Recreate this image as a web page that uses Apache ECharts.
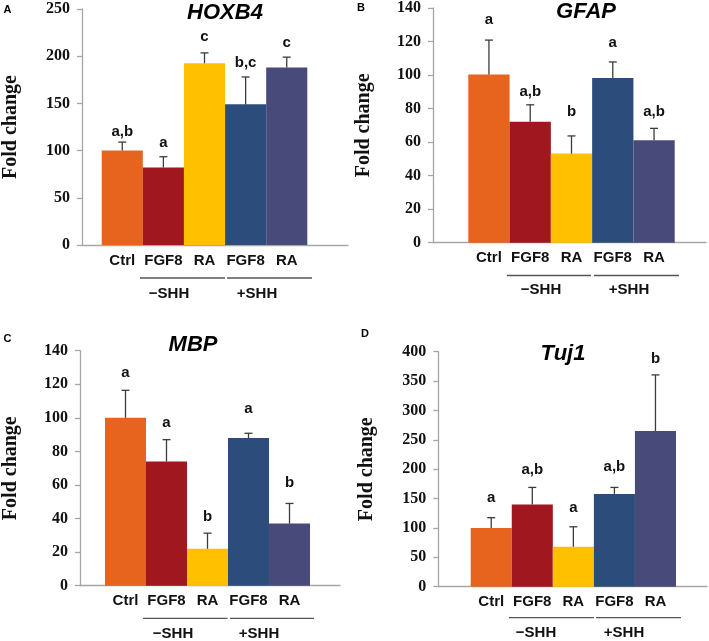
<!DOCTYPE html>
<html><head><meta charset="utf-8">
<script src="https://cdn.jsdelivr.net/npm/echarts@6/dist/echarts.min.js"></script>
<style>html,body{margin:0;padding:0;background:#fff}#c{width:709px;height:641px}</style>
</head><body><div id="c"></div>
<script>
// ---- data ----
const categories = ['Ctrl', 'FGF8', 'RA', 'FGF8', 'RA'];
const groupLabels = ['\u2212SHH', '+SHH'];
const titles = ['HOXB4', 'GFAP', 'MBP', 'Tuj1'];
const panelLetters = ['A', 'B', 'C', 'D'];
const yAxisName = 'Fold change';

const hoxb4Mean = [100, 82, 192.5, 149, 188];
const hoxb4Err = [9, 11.5, 11, 29, 11];
const hoxb4Sig = ['a,b', 'a', 'c', 'b,c', 'c'];
const hoxb4SigAt = [120, 108.7, 220, 192.5, 213.7];

const gfapMean = [100, 72, 53, 98, 61];
const gfapErr = [20.5, 10, 10.5, 9.5, 7];
const gfapSig = ['a', 'a,b', 'b', 'a', 'a,b'];
const gfapSigAt = [132.6, 90, 78, 118.7, 77.6];

const mbpMean = [100, 74, 22, 88, 37];
const mbpErr = [16.4, 13, 9.3, 2.8, 12];
const mbpSig = ['a', 'a', 'b', 'a', 'b'];
const mbpSigAt = [127, 97.3, 41, 105.2, 61];

const tuj1Mean = [100, 140, 68, 158, 265];
const tuj1Err = [17.5, 29, 34, 11, 95.5];
const tuj1Sig = ['a', 'a,b', 'a', 'a,b', 'b'];
const tuj1SigAt = [150.5, 198.6, 133.4, 204.3, 387.6];

const yMax = [250, 140, 140, 400];
const yStep = [50, 20, 20, 50];

// ---- styles / layout ----
const barColors = ['#E7641F', '#A1171F', '#FFC000', '#2C4C7B', '#484B7A'];
const panelData = [
  [hoxb4Mean, hoxb4Err, hoxb4Sig, hoxb4SigAt],
  [gfapMean, gfapErr, gfapSig, gfapSigAt],
  [mbpMean, mbpErr, mbpSig, mbpSigAt],
  [tuj1Mean, tuj1Err, tuj1Sig, tuj1SigAt]
];
const layout = [
  {ax: 70, top: 9, bottom: 245, right: 348, bl: 101.7, br: 307.3, nameGap: 61,
   gl: [[140, 225], [227, 312]], gly: 278, gt: [169, 257], gty: 293.5,
   title: [225, 13], letter: [7.5, 10]},
  {ax: 433, top: 7.3, bottom: 242.7, right: 706, bl: 468.3, br: 674.7, nameGap: 59,
   gl: [[507, 591], [594, 679]], gly: 275.5, gt: [541, 629], gty: 290,
   title: [586, 12], letter: [361, 8]},
  {ax: 70, top: 350.7, bottom: 585.7, right: 340, bl: 105, br: 310, nameGap: 59,
   gl: [[143, 227.5], [230, 314]], gly: 618.3, gt: [173, 259], gty: 634,
   title: [193, 345], letter: [7.5, 339]},
  {ax: 438.3, top: 351.7, bottom: 586.7, right: 707, bl: 470.7, br: 676, nameGap: 61,
   gl: [[509, 594], [596, 681]], gly: 617.7, gt: [536, 624], gty: 633,
   title: [563, 354], letter: [365, 334]}
];
const axisGrey = '#a6a6a6';
const errColor = '#3c3c3c';

const grids = [], xAxes = [], yAxes = [], series = [], graphics = [];

layout.forEach((L, k) => {
  const [mean, err, sig, sigAt] = panelData[k];
  const h = L.bottom - L.top;
  grids.push({left: L.ax, top: L.top, width: L.right - L.ax, height: h});
  grids.push({left: L.bl, top: L.top, width: L.br - L.bl, height: h});
  xAxes.push({gridIndex: 2 * k, type: 'value', min: 0, max: 1,
    axisLine: {show: true, onZero: false, lineStyle: {color: axisGrey, width: 1.3}},
    axisTick: {show: false}, axisLabel: {show: false}, splitLine: {show: false}});
  xAxes.push({gridIndex: 2 * k + 1, type: 'category', data: categories,
    axisLine: {show: false}, axisTick: {show: false},
    axisLabel: {interval: 0, hideOverlap: false, fontFamily: 'Liberation Sans', fontWeight: 'bold', fontSize: 15, color: '#111', margin: 8}});
  yAxes.push({gridIndex: 2 * k, type: 'value', min: 0, max: yMax[k], interval: yStep[k],
    axisLine: {show: true, lineStyle: {color: axisGrey, width: 1.3}},
    axisTick: {show: true, length: 5, lineStyle: {color: axisGrey, width: 1.3}},
    axisLabel: {fontFamily: 'Liberation Serif', fontWeight: 'bold', fontSize: 16, color: '#111', margin: 12},
    splitLine: {show: false},
    name: yAxisName, nameLocation: 'middle', nameRotate: 90, nameGap: L.nameGap,
    nameTextStyle: {fontFamily: 'Liberation Serif', fontWeight: 'bold', fontSize: 20, color: '#111'}});
  yAxes.push({gridIndex: 2 * k + 1, type: 'value', min: 0, max: yMax[k], interval: yStep[k], show: false});

  series.push({type: 'bar', xAxisIndex: 2 * k + 1, yAxisIndex: 2 * k + 1, barCategoryGap: '0%',
    silent: true,
    data: mean.map((v, i) => ({value: v, itemStyle: {color: barColors[i]}}))});
  series.push({type: 'custom', xAxisIndex: 2 * k + 1, yAxisIndex: 2 * k + 1, silent: true, z: 5,
    data: mean.map((v, i) => [i, v, err[i], sigAt[i]]),
    renderItem: function (params, api) {
      const i = api.value(0), v = api.value(1), e = api.value(2), s = api.value(3);
      const p0 = api.coord([i, v]);
      const p1 = api.coord([i, v + e]);
      const pl = api.coord([i, s]);
      return {type: 'group', children: [
        {type: 'line', shape: {x1: p0[0], y1: p0[1], x2: p1[0], y2: p1[1]}, style: {stroke: errColor, lineWidth: 1.3}},
        {type: 'line', shape: {x1: p1[0] - 4, y1: p1[1], x2: p1[0] + 4, y2: p1[1]}, style: {stroke: errColor, lineWidth: 1.3}},
        {type: 'text', x: pl[0], y: pl[1], style: {text: sig[params.dataIndex], font: 'bold 15px "Liberation Sans"', fill: '#111', align: 'center', verticalAlign: 'middle'}}
      ]};
    }});

  L.gl.forEach((seg, j) => {
    graphics.push({type: 'line', shape: {x1: seg[0], y1: L.gly, x2: seg[1], y2: L.gly}, style: {stroke: '#555', lineWidth: 1.3}});
    graphics.push({type: 'text', x: L.gt[j], y: L.gty, style: {text: groupLabels[j], font: 'bold 15px "Liberation Sans"', fill: '#111', align: 'center', verticalAlign: 'middle'}});
  });
  graphics.push({type: 'text', x: L.title[0], y: L.title[1], style: {text: titles[k], font: 'italic bold 22px "Liberation Sans"', fill: '#000', align: 'center', verticalAlign: 'middle'}});
  graphics.push({type: 'text', x: L.letter[0], y: L.letter[1], style: {text: panelLetters[k], font: 'bold 11px "Liberation Sans"', fill: '#000', align: 'center', verticalAlign: 'middle'}});
});

const chart = echarts.init(document.getElementById('c'), null, {renderer: 'canvas'});
chart.setOption({
  animation: false,
  backgroundColor: '#fff',
  grid: grids, xAxis: xAxes, yAxis: yAxes, series: series, graphic: graphics
});
</script></body></html>
